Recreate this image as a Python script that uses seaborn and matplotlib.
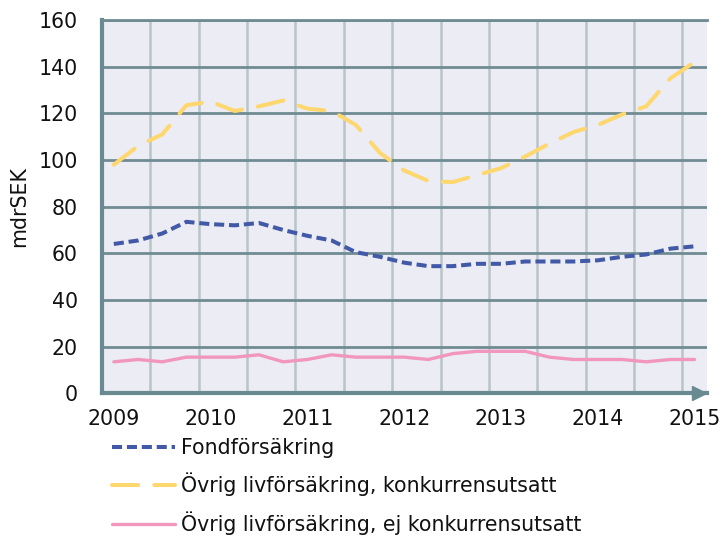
import numpy as np
import pandas as pd
import matplotlib
matplotlib.use("Agg")
import matplotlib.pyplot as plt
import seaborn as sns

# ---- data (quarterly, 2009Q1 - 2015Q1), mdrSEK ----
quarters = pd.period_range("2009Q1", "2015Q1", freq="Q")
fondforsakring = [64, 65.5, 68.5, 73.5, 72.5, 72, 73, 70, 67.5, 65.5, 60.5, 58.5,
                  56, 54.5, 54.5, 55.5, 55.5, 56.5, 56.5, 56.5, 57, 58.5, 59.5, 62, 63]
ovrig_konk = [98, 106, 111, 123.5, 125, 121, 123, 125.5, 122, 121, 115, 103,
              95.5, 91, 90.5, 93.5, 96.5, 101.5, 107, 112, 115, 119.5, 123, 135, 142]
ovrig_ej_konk = [13.5, 14.5, 13.5, 15.5, 15.5, 15.5, 16.5, 13.5, 14.5, 16.5, 15.5, 15.5,
                 15.5, 14.5, 17, 18, 18, 18, 15.5, 14.5, 14.5, 14.5, 13.5, 14.5, 14.5]
series_names = ["Fondförsäkring",
                "Övrig livförsäkring, konkurrensutsatt",
                "Övrig livförsäkring, ej konkurrensutsatt"]
year_labels = ["2009", "2010", "2011", "2012", "2013", "2014", "2015"]
y_ticks = [0, 20, 40, 60, 80, 100, 120, 140, 160]

# position of each quarter at the centre of its category
xpos = np.array([q.year + (q.quarter - 1) / 4 + 0.125 for q in quarters])

BLUE = "#4159A6"
YELLOW = "#FED76E"
PINK = "#F197BE"
AXC = "#6A8A91"
HGRID = "#6F8C92"
VGRID = "#B7C5C9"
BG = "#ECECF5"
TXT = "#111111"
FS = 14.8

sns.set_style("white")
plt.rcParams["font.family"] = ["DejaVu Sans"]

fig, ax = plt.subplots(figsize=(7.22, 5.36), dpi=100)
fig.subplots_adjust(left=0.1409, right=0.9788, top=0.9627, bottom=0.2662)
ax.set_facecolor(BG)

sns.lineplot(x=xpos, y=fondforsakring, ax=ax, color=BLUE, lw=2.9,
             linestyle=(0, (2.5, 1.2)), label=series_names[0])
sns.lineplot(x=xpos, y=ovrig_konk, ax=ax, color=YELLOW, lw=2.9,
             linestyle=(0, (6.5, 4.0)), dash_capstyle="round", label=series_names[1])
sns.lineplot(x=xpos, y=ovrig_ej_konk, ax=ax, color=PINK, lw=2.4,
             label=series_names[2])

ax.set_xlim(2009, 2015.25)
ax.set_ylim(0, 160)

years = np.array([int(y) for y in year_labels])
ax.set_xticks(years + 0.125)
ax.set_xticklabels(year_labels)
ax.set_xticks(np.arange(2009, 2015.01, 0.5), minor=True)
ax.set_yticks(y_ticks)

ax.tick_params(axis="x", which="major", length=0, pad=11.5, labelsize=FS, labelcolor=TXT)
ax.tick_params(axis="x", which="minor", length=5, width=2.5, color=AXC, direction="out")
ax.tick_params(axis="y", which="major", length=5, width=2.5, color=AXC, direction="out",
               pad=12, labelsize=FS, labelcolor=TXT)

ax.grid(False)
ax.grid(True, which="minor", axis="x", color=VGRID, lw=1.8)
ax.grid(True, which="major", axis="y", color=HGRID, lw=2.0)
ax.set_axisbelow(True)

ax.spines["right"].set_visible(False)
ax.spines["top"].set_color(HGRID)
ax.spines["top"].set_linewidth(2.0)
ax.spines["left"].set_color(AXC)
ax.spines["left"].set_linewidth(3)
ax.spines["bottom"].set_color(AXC)
ax.spines["bottom"].set_linewidth(3)

# arrow head at the end of the x axis
ax.plot([0.988], [0], marker=">", ms=10.5, color=AXC, transform=ax.transAxes,
        clip_on=False, zorder=5)

ax.set_ylabel("mdrSEK", fontsize=FS, labelpad=7, color=TXT)
ax.set_xlabel("")

handles, labels = ax.get_legend_handles_labels()
ax.get_legend().remove()
fig.legend(handles, labels, loc="upper left", bbox_to_anchor=(112 / 722, 1 - 438 / 536),
           frameon=False, fontsize=FS, handlelength=3.05, handletextpad=0.29,
           borderpad=0, borderaxespad=0, labelspacing=0.72, labelcolor=TXT)

fig.savefig("out.png", dpi=100)
